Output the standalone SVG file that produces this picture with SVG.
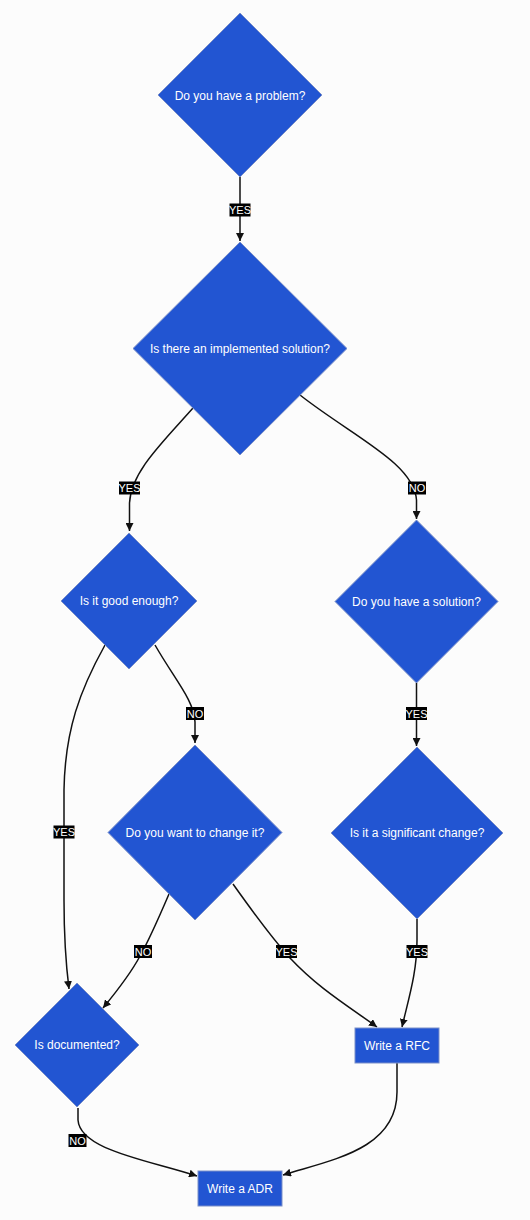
<svg xmlns="http://www.w3.org/2000/svg" width="530" height="1220" viewBox="0 0 530 1220">
<style>
.node polygon,.node rect{fill:#2255d2;stroke:#7a8fc8;stroke-width:1}
.node text{fill:#ffffff;font-family:"Liberation Sans",Arial,sans-serif;font-size:12px;text-anchor:middle}
.edge{fill:none;stroke:#111;stroke-width:1.5}
.lbl rect{fill:#000}
.lbl text{fill:#fff;font-family:"Liberation Sans",Arial,sans-serif;font-size:11px;text-anchor:middle}
</style>
<defs>
<marker id="arr" viewBox="0 0 10 10" refX="10" refY="5" markerWidth="8" markerHeight="8" markerUnits="userSpaceOnUse" orient="auto">
<path d="M0,0 L10,5 L0,10 z" fill="#111"/>
</marker>
</defs>
<rect x="0" y="0" width="530" height="1220" fill="#fcfcfc"/>
<g id="connectors">
<path class="edge" d="M240,177 L240,241" marker-end="url(#arr)"/>
<path class="edge" d="M193,408 C162,443 131,472 129.5,503 L129.5,531" marker-end="url(#arr)"/>
<path class="edge" d="M300,395 C352,436 414,463 416.5,500 L416.5,519" marker-end="url(#arr)"/>
<path class="edge" d="M416.5,683 L416.5,746" marker-end="url(#arr)"/>
<path class="edge" d="M155,645 C175,680 194,700 195,722 L195,743" marker-end="url(#arr)"/>
<path class="edge" d="M105,645 C80,690 65,730 64,790 L64,900 C64,945 66,965 69,989" marker-end="url(#arr)"/>
<path class="edge" d="M169,894 C157,922 148,942 140,956 C130,975 117,991 103,1008" marker-end="url(#arr)"/>
<path class="edge" d="M233,884 C255,915 272,938 290,958 C318,988 348,1006 377,1027" marker-end="url(#arr)"/>
<path class="edge" d="M417,919 L417,940 C417,972 409,997 402,1027" marker-end="url(#arr)"/>
<path class="edge" d="M78,1108 L78,1120 C80,1150 148,1160 197,1176" marker-end="url(#arr)"/>
<path class="edge" d="M397,1063 L397,1092 C397,1150 330,1160 283,1175" marker-end="url(#arr)"/>
<g class="lbl">
<rect x="229.5" y="203.5" width="21" height="13"/><text x="240" y="214">YES</text>
<rect x="119" y="481.5" width="21" height="13"/><text x="129.5" y="492">YES</text>
<rect x="408" y="481.5" width="18" height="13"/><text x="417" y="492">NO</text>
<rect x="406" y="707" width="21" height="13"/><text x="416.5" y="717.5">YES</text>
<rect x="186" y="707" width="18" height="13"/><text x="195" y="717.5">NO</text>
<rect x="53.5" y="825.5" width="21" height="13"/><text x="64" y="836">YES</text>
<rect x="134" y="945" width="18" height="13"/><text x="143" y="955.5">NO</text>
<rect x="276" y="945" width="21" height="13"/><text x="286.5" y="955.5">YES</text>
<rect x="406.5" y="945" width="21" height="13"/><text x="417" y="955.5">YES</text>
<rect x="68.5" y="1134" width="18" height="13"/><text x="77.5" y="1144.5">NO</text>
</g>
</g>
<g id="n1" class="node"><polygon points="240,13 322,95 240,177 158,95"/><text x="240" y="100">Do you have a problem?</text></g>
<g id="n2" class="node"><polygon points="240,242 347,348.5 240,455 133,348.5"/><text x="240" y="353">Is there an implemented solution?</text></g>
<g id="n3" class="node"><polygon points="129,533 197,601 129,669 61,601"/><text x="129" y="605">Is it good enough?</text></g>
<g id="n4" class="node"><polygon points="416.5,520 498,601.5 416.5,683 335,601.5"/><text x="416.5" y="605.5">Do you have a solution?</text></g>
<g id="n5" class="node"><polygon points="195,745 282,832.5 195,920 108,832.5"/><text x="195" y="836.5">Do you want to change it?</text></g>
<g id="n6" class="node"><polygon points="417,747 503,833 417,919 331,833"/><text x="417" y="837">Is it a significant change?</text></g>
<g id="n7" class="node"><polygon points="77,983 139,1045 77,1107 15,1045"/><text x="77" y="1049">Is documented?</text></g>
<g id="n8" class="node"><rect x="355" y="1028" width="84" height="35"/><text x="397" y="1049.5">Write a RFC</text></g>
<g id="n9" class="node"><rect x="198" y="1171" width="84" height="35"/><text x="240" y="1192.5">Write a ADR</text></g>
</svg>
